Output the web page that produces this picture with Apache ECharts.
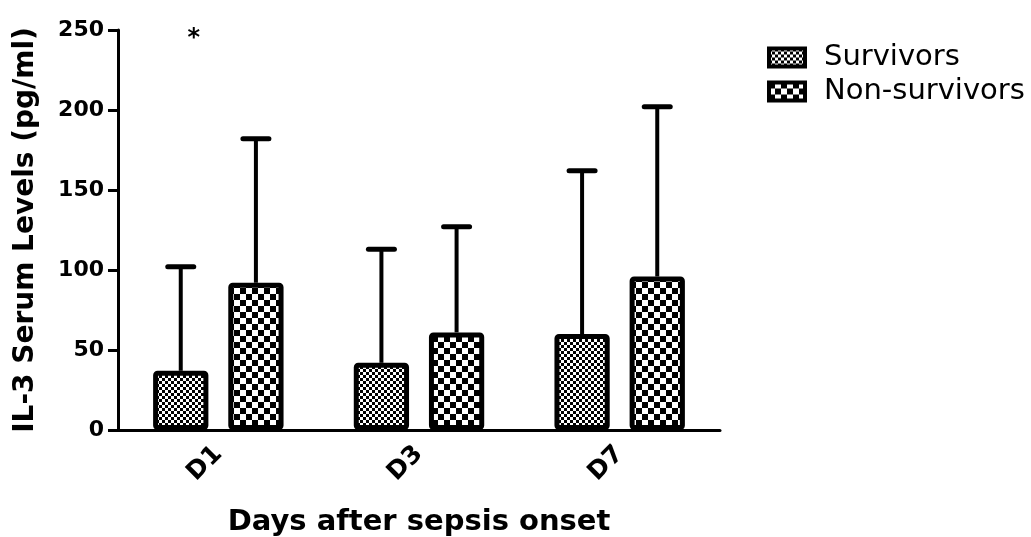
<!DOCTYPE html>
<html>
<head>
<meta charset="utf-8">
<script src="https://cdn.jsdelivr.net/npm/echarts@6/dist/echarts.min.js"></script>
<style>
html, body { margin: 0; padding: 0; background: #fff; }
#main { width: 1031px; height: 537px; }
</style>
</head>
<body>
<div id="main"></div>
<script>
// days after onset
var categories = ['D1', 'D3', 'D7'];
// mean values (pg/ml)
var survivorsMean = [37, 42, 60];
var nonSurvivorsMean = [92, 61, 96];
// SD, drawn upward only
var survivorsSd = [65, 71, 102];
var nonSurvivorsSd = [90, 66, 106];
var yTicks = [0, 50, 100, 150, 200, 250];

var catGap = 0.35, barGapRatio = 0.36;

// checker patterns
function checker(cell) {
    var c = document.createElement('canvas');
    c.width = cell * 2;
    c.height = cell * 2;
    var ctx = c.getContext('2d');
    ctx.fillStyle = '#fff';
    ctx.fillRect(0, 0, cell * 2, cell * 2);
    ctx.fillStyle = '#000';
    ctx.fillRect(0, 0, cell, cell);
    ctx.fillRect(cell, cell, cell, cell);
    return c;
}

function errorBars(side) {
    return function(params, api) {
        var idx = api.value(0);
        var base = api.coord([idx, api.value(1)]);
        var top = api.coord([idx, api.value(1) + api.value(2)]);
        var band = api.size([1, 0])[0];
        var bw = band * (1 - catGap) / (2 + barGapRatio);
        var x = base[0] + side * (bw + bw * barGapRatio) / 2;
        return {
            type: 'group',
            children: [{
                type: 'line',
                shape: { x1: x, y1: base[1], x2: x, y2: top[1] },
                style: { stroke: '#000', lineWidth: 4 }
            }, {
                type: 'line',
                shape: { x1: x - 13, y1: top[1], x2: x + 13, y2: top[1] },
                style: { stroke: '#000', lineWidth: 5, lineCap: 'round' }
            }]
        };
    };
}

function errData(mean, sd) {
    return mean.map(function(m, i) { return [i, m, sd[i]]; });
}

var myChart = echarts.init(document.getElementById('main'));
var option = {
    animation: false,
    textStyle: { fontFamily: 'DejaVu Sans' },
    grid: { left: 118, right: 311, top: 30, bottom: 107, outerBoundsMode: 'none', containLabel: false },
    legend: {
        orient: 'vertical',
        left: 762,
        top: 38,
        icon: 'rect',
        itemWidth: 36,
        itemHeight: 18,
        itemGap: 5,
        itemStyle: { borderWidth: 4, borderColor: '#000' },
        textStyle: { color: '#000', fontSize: 29, lineHeight: 20, padding: [0, 0, 0, 14], fontFamily: 'DejaVu Sans' },
        data: ['Survivors', 'Non-survivors']
    },
    xAxis: {
        type: 'category',
        data: categories,
        name: 'Days after sepsis onset',
        nameLocation: 'middle',
        nameGap: 78,
        nameTextStyle: { color: '#000', fontSize: 29, fontWeight: 'bold', fontFamily: 'DejaVu Sans' },
        axisLine: { lineStyle: { color: '#000', width: 3 } },
        axisTick: { alignWithLabel: true, length: 10, lineStyle: { color: '#000', width: 3 } },
        axisLabel: { color: '#000', fontSize: 25, fontWeight: 'bold', rotate: 45, margin: 20, fontFamily: 'DejaVu Sans' }
    },
    yAxis: {
        type: 'value',
        min: 0,
        max: 250,
        interval: 50,
        name: 'IL-3 Serum Levels (pg/ml)',
        nameLocation: 'middle',
        nameGap: 78,
        nameTextStyle: { color: '#000', fontSize: 28, fontWeight: 'bold', fontFamily: 'DejaVu Sans' },
        axisLine: { show: true, lineStyle: { color: '#000', width: 3 } },
        axisTick: { show: true, length: 10, lineStyle: { color: '#000', width: 3 } },
        splitLine: { show: false },
        axisLabel: {
            color: '#000', fontSize: 22, fontWeight: 'bold', margin: 14, fontFamily: 'DejaVu Sans',
            formatter: function(v) { return yTicks.indexOf(v) >= 0 ? String(v) : ''; }
        }
    },
    series: [{
            name: 'Survivors',
            type: 'bar',
            z: 3,
            barCategoryGap: '35%',
            barGap: '36%',
            itemStyle: {
                color: { image: checker(3), repeat: 'repeat' },
                borderColor: '#000',
                borderWidth: 5,
                borderRadius: 2
            },
            markPoint: {
                symbol: 'circle',
                symbolSize: 0,
                label: { show: true, formatter: '*', color: '#000', fontSize: 24, fontWeight: 'bold', offset: [13, 6] },
                data: [{ coord: ['D1', 248] }]
            },
            data: survivorsMean
        },
        {
            name: 'Non-survivors',
            type: 'bar',
            z: 3,
            itemStyle: {
                color: { image: checker(6), repeat: 'repeat' },
                borderColor: '#000',
                borderWidth: 5,
                borderRadius: 2
            },
            data: nonSurvivorsMean
        },
        {
            name: 'sd1',
            type: 'custom',
            z: 2,
            renderItem: errorBars(-1),
            data: errData(survivorsMean, survivorsSd)
        },
        {
            name: 'sd2',
            type: 'custom',
            z: 2,
            renderItem: errorBars(1),
            data: errData(nonSurvivorsMean, nonSurvivorsSd)
        }
    ]
};
myChart.setOption(option);
</script>
</body>
</html>
